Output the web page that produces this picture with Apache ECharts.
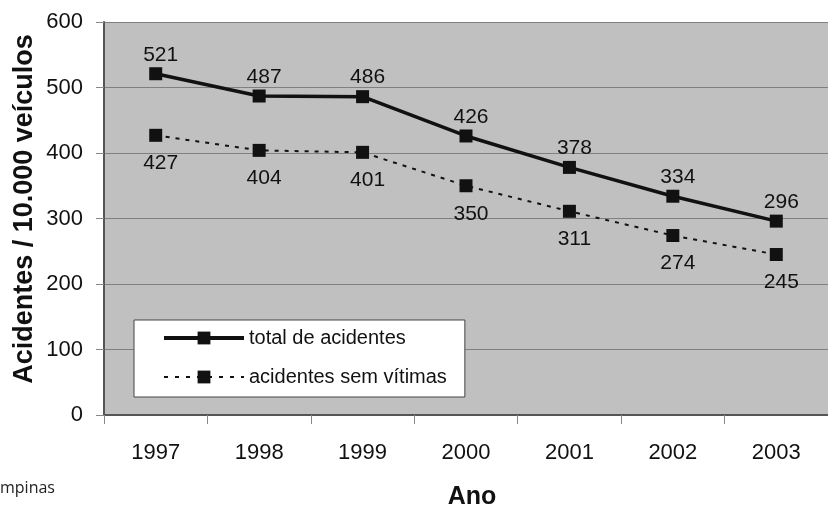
<!DOCTYPE html>
<html>
<head>
<meta charset="utf-8">
<script src="https://cdn.jsdelivr.net/npm/echarts@6/dist/echarts.min.js"></script>
<style>
  html, body { margin: 0; padding: 0; background: #fff; }
  #main { width: 828px; height: 508px; }
</style>
</head>
<body>
<div id="main"></div>
<script>
// dados do gráfico
var anos = ['1997', '1998', '1999', '2000', '2001', '2002', '2003']
var totalAcidentes = [521, 487, 486, 426, 378, 334, 296]
var semVitimas = [427, 404, 401, 350, 311, 274, 245]
var yTicks = [0, 100, 200, 300, 400, 500, 600]

var fonte = "'Liberation Sans', Arial, sans-serif"

var chart = echarts.init(document.getElementById('main'))
var option = {
  backgroundColor: '#fff',
  animation: false,
  grid: {
    left: 104,
    top: 22,
    bottom: 93,
    width: 738,
    show: true,
    backgroundColor: '#c0c0c0',
    borderWidth: 0
  },
  legend: {
    orient: 'vertical',
    left: 134,
    top: 320,
    backgroundColor: '#fff',
    borderColor: '#444',
    borderWidth: 1,
    padding: [6, 18, 8, 28],
    itemGap: 15,
    itemWidth: 80,
    itemHeight: 16,
    textStyle: { fontFamily: fonte, fontSize: 20, lineHeight: 24, color: '#111' },
    data: [
      { name: 'total de acidentes', lineStyle: { width: 4 } },
      { name: 'acidentes sem vítimas', lineStyle: { width: 2, type: [4, 7] } }
    ]
  },
  xAxis: {
    type: 'category',
    data: anos,
    boundaryGap: true,
    axisLine: { lineStyle: { color: '#555', width: 2 } },
    axisTick: { show: true, length: 9, lineStyle: { color: '#888', width: 1 } },
    axisLabel: { margin: 27, fontFamily: fonte, fontSize: 22, color: '#111' },
    splitLine: { show: false }
  },
  yAxis: {
    type: 'value',
    min: yTicks[0],
    max: yTicks[yTicks.length - 1],
    interval: 100,
    axisLine: { show: true, lineStyle: { color: '#555', width: 2 } },
    axisTick: { show: true, length: 8, lineStyle: { color: '#888', width: 1 } },
    axisLabel: { margin: 21, fontFamily: fonte, fontSize: 22, color: '#111' },
    splitLine: { show: true, lineStyle: { color: '#808080', width: 1 } }
  },
  graphic: [
    {
      type: 'text',
      rotation: Math.PI / 2,
      x: 25, y: 209,
      style: {
        text: 'Acidentes / 10.000 veículos',
        font: "bold 27px 'Liberation Sans', Arial, sans-serif",
        fill: '#111',
        align: 'center',
        verticalAlign: 'middle'
      }
    },
    {
      type: 'text',
      x: 472, y: 497,
      style: {
        text: 'Ano',
        font: "bold 25px 'Liberation Sans', Arial, sans-serif",
        fill: '#111',
        align: 'center',
        verticalAlign: 'middle'
      }
    },
    {
      type: 'text',
      x: 0, y: 488,
      style: {
        text: 'mpinas',
        font: "16px 'Open Sans', sans-serif",
        fill: '#222',
        align: 'left',
        verticalAlign: 'middle'
      }
    }
  ],
  series: [
    {
      name: 'total de acidentes',
      type: 'line',
      data: totalAcidentes,
      symbol: 'rect',
      symbolSize: 13,
      lineStyle: { color: '#111', width: 3.5 },
      itemStyle: { color: '#111' },
      label: {
        show: true,
        position: 'top',
        distance: 2,
        offset: [5, 0],
        fontFamily: fonte,
        fontSize: 21,
        color: '#111'
      },
      z: 3
    },
    {
      name: 'acidentes sem vítimas',
      type: 'line',
      data: semVitimas,
      symbol: 'rect',
      symbolSize: 13,
      lineStyle: { color: '#111', width: 2, type: [4, 6] },
      itemStyle: { color: '#111' },
      label: {
        show: true,
        position: 'bottom',
        distance: 11,
        offset: [5, 0],
        fontFamily: fonte,
        fontSize: 21,
        color: '#111'
      }
    }
  ]
}
chart.setOption(option)
</script>
</body>
</html>
